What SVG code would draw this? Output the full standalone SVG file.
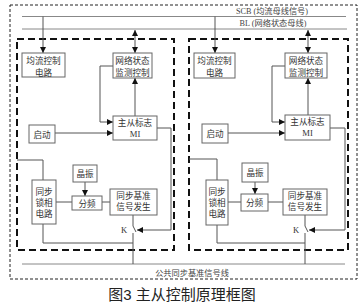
<svg xmlns="http://www.w3.org/2000/svg" width="364" height="307" viewBox="0 0 364 307">
<defs>
<marker id="ah" viewBox="0 0 8 8" refX="8" refY="4" markerWidth="6" markerHeight="6" orient="auto-start-reverse" markerUnits="userSpaceOnUse">
<path d="M0,0 L8,4 L0,8 z" fill="#111"/>
</marker>
<style>
.outer{fill:none;stroke:#222;stroke-width:1;stroke-dasharray:3 2}
.inner{fill:none;stroke:#111;stroke-width:2;stroke-dasharray:7 4}
.bus{fill:none;stroke:#888;stroke-width:1}
.box{fill:#fff;stroke:#666;stroke-width:1}
.ln{fill:none;stroke:#555;stroke-width:1}
.arr{marker-end:url(#ah)}
.arr2{marker-start:url(#ah);marker-end:url(#ah)}
.t{font-family:"Liberation Serif","Noto Sans CJK SC",serif;font-size:8.6px;fill:#333;text-anchor:middle}
.bt{font-family:"Liberation Serif","Noto Sans CJK SC",serif;font-size:8.2px;fill:#444;text-anchor:middle}
.cap{font-family:"Liberation Sans","Noto Sans CJK SC",sans-serif;font-size:15px;fill:#222;text-anchor:middle}
</style>
</defs>
<rect width="364" height="307" fill="#fff"/>
<rect class="outer" x="10" y="5" width="347" height="274"/>
<rect class="inner" x="17" y="39" width="157" height="211"/>
<rect class="inner" x="189" y="39" width="159" height="211"/>

<g id="connectors">
<line class="bus" x1="22" y1="16.5" x2="346" y2="16.5"/>
<line class="bus" x1="22" y1="29" x2="347" y2="29"/>
<line class="bus" x1="22" y1="264" x2="345" y2="264"/>
<!-- left panel -->
<line class="ln arr" x1="43" y1="16.5" x2="43" y2="53"/>
<line class="ln arr2" x1="135" y1="30" x2="135" y2="53"/>
<polyline class="ln arr" points="113,66 100,66 100,122 113,122"/>
<line class="ln arr" x1="135" y1="116" x2="135" y2="78"/>
<line class="ln arr" x1="55" y1="133" x2="113" y2="133"/>
<polyline class="ln arr" points="157,128 171,128 171,230 137,230"/>
<polyline class="ln" points="17,160 43,160 43,180"/>
<polyline class="ln" points="43,224 43,243 133,243"/>
<line class="ln" x1="56" y1="202" x2="72" y2="202"/>
<line class="ln arr" x1="85" y1="182" x2="85" y2="196"/>
<line class="ln" x1="102" y1="202" x2="110" y2="202"/>
<line class="ln" x1="133" y1="215" x2="133" y2="226"/>
<line class="ln" x1="133" y1="226" x2="136" y2="232"/>
<line class="ln" x1="133" y1="233" x2="133" y2="264"/>
<!-- right panel -->
<line class="ln arr" x1="215" y1="16.5" x2="215" y2="53"/>
<line class="ln arr2" x1="308" y1="30" x2="308" y2="53"/>
<polyline class="ln arr" points="285,66 272,66 272,122 285,122"/>
<line class="ln arr" x1="308" y1="115" x2="308" y2="78"/>
<line class="ln arr" x1="228" y1="133" x2="285" y2="133"/>
<polyline class="ln arr" points="330,128 345,128 345,230 309,230"/>
<polyline class="ln" points="189,159 217,159 217,180"/>
<polyline class="ln" points="217,225 217,243 305,243"/>
<line class="ln" x1="228" y1="202" x2="241" y2="202"/>
<line class="ln arr" x1="255" y1="182" x2="255" y2="194"/>
<line class="ln" x1="268" y1="202" x2="283" y2="202"/>
<line class="ln" x1="305" y1="215" x2="305" y2="226"/>
<line class="ln" x1="305" y1="226" x2="308" y2="232"/>
<line class="ln" x1="305" y1="233" x2="305" y2="264"/>
</g>

<g id="bus-labels">
<text class="bt" x="272" y="13.5">SCB (均流母线信号)</text>
<text class="bt" x="273" y="26">BL (网络状态母线)</text>
<text class="bt" x="192" y="276">公共同步基准信号线</text>
</g>

<g id="L-junliu"><rect class="box" x="22" y="53" width="43" height="24"/><text class="t" x="43.5" y="64">均流控制</text><text class="t" x="43.5" y="75.5">电路</text></g>
<g id="L-wangluo"><rect class="box" x="113" y="53" width="39" height="25"/><text class="t" x="132.5" y="64">网络状态</text><text class="t" x="132.5" y="75.5">监测控制</text></g>
<g id="L-zhucong"><rect class="box" x="113" y="116" width="44" height="24"/><text class="t" x="135" y="125.5">主从标志</text><text class="t" x="135" y="136.5">MI</text></g>
<g id="L-qidong"><rect class="box" x="29" y="125" width="26" height="18"/><text class="t" x="42" y="137.5">启动</text></g>
<g id="L-suoxiang"><rect class="box" x="32" y="180" width="24" height="44"/><text class="t" x="44" y="194.5">同步</text><text class="t" x="44" y="205.5">锁相</text><text class="t" x="44" y="216.5">电路</text></g>
<g id="L-jingzhen"><rect class="box" x="73" y="165" width="24" height="17"/><text class="t" x="85" y="177">晶振</text></g>
<g id="L-fenpin"><rect class="box" x="72" y="196" width="30" height="14"/><text class="t" x="87" y="206.5">分频</text></g>
<g id="L-jizhun"><rect class="box" x="110" y="189" width="47" height="26"/><text class="t" x="133.5" y="199">同步基准</text><text class="t" x="133.5" y="210">信号发生</text></g>
<g id="L-K"><text class="t" x="124" y="233">K</text></g>

<g id="R-junliu"><rect class="box" x="194" y="53" width="41" height="25"/><text class="t" x="214.5" y="64">均流控制</text><text class="t" x="214.5" y="75.5">电路</text></g>
<g id="R-wangluo"><rect class="box" x="285" y="53" width="42" height="25"/><text class="t" x="306" y="64">网络状态</text><text class="t" x="306" y="75.5">监测控制</text></g>
<g id="R-zhucong"><rect class="box" x="285" y="115" width="45" height="25"/><text class="t" x="307.5" y="125">主从标志</text><text class="t" x="307.5" y="136">MI</text></g>
<g id="R-qidong"><rect class="box" x="202" y="124" width="26" height="19"/><text class="t" x="215" y="137">启动</text></g>
<g id="R-suoxiang"><rect class="box" x="206" y="180" width="22" height="45"/><text class="t" x="217" y="194.5">同步</text><text class="t" x="217" y="205.5">锁相</text><text class="t" x="217" y="216.5">电路</text></g>
<g id="R-jingzhen"><rect class="box" x="242" y="163" width="26" height="19"/><text class="t" x="255" y="176">晶振</text></g>
<g id="R-fenpin"><rect class="box" x="241" y="194" width="27" height="17"/><text class="t" x="254.5" y="206">分频</text></g>
<g id="R-jizhun"><rect class="box" x="283" y="189" width="44" height="26"/><text class="t" x="305" y="199">同步基准</text><text class="t" x="305" y="210">信号发生</text></g>
<g id="R-K"><text class="t" x="296" y="233">K</text></g>

<text class="cap" x="182" y="300">图3 主从控制原理框图</text>
</svg>
